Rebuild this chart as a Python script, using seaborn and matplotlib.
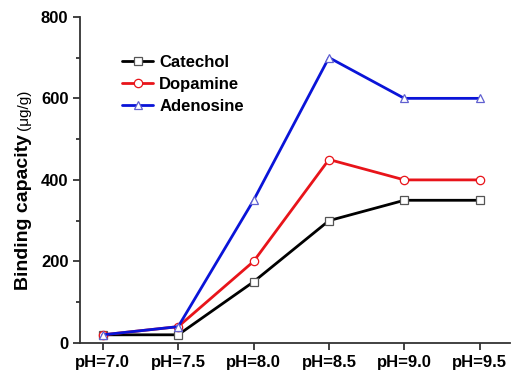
import pandas as pd
import matplotlib
matplotlib.use("Agg")
import matplotlib.pyplot as plt
import seaborn as sns
from matplotlib.ticker import MultipleLocator

# Data
ph_labels = ["pH=7.0", "pH=7.5", "pH=8.0", "pH=8.5", "pH=9.0", "pH=9.5"]
catechol = [20, 20, 150, 300, 350, 350]
dopamine = [20, 40, 200, 450, 400, 400]
adenosine = [20, 40, 350, 700, 600, 600]

series = {"Catechol": catechol, "Dopamine": dopamine, "Adenosine": adenosine}
colors = {"Catechol": "black", "Dopamine": "#e8141a", "Adenosine": "#0a14d8"}
markers = {"Catechol": "s", "Dopamine": "o", "Adenosine": "^"}
edges = {"Catechol": "#555555", "Dopamine": "#e8141a", "Adenosine": "#6060d0"}

rows = []
for name, vals in series.items():
    for i, v in enumerate(vals):
        rows.append({"pos": i, "value": v, "series": name})
df = pd.DataFrame(rows)

sns.set_style("ticks")
plt.rcParams["font.family"] = ["Liberation Sans", "DejaVu Sans"]
plt.rcParams["font.weight"] = "bold"
plt.rcParams["text.color"] = "black"

fig = plt.figure(figsize=(5.14, 3.74), dpi=100)
ax = fig.add_axes([0.156, 0.083, 0.836, 0.872])

for name in series:
    sub = df[df["series"] == name]
    sns.lineplot(data=sub, x="pos", y="value", ax=ax, color=colors[name],
                 marker=markers[name], markersize=6, markerfacecolor="white",
                 markeredgecolor=edges[name], markeredgewidth=0.9,
                 linewidth=2.0, label=name)

ax.set_xlim(-0.3, 5.4)
ax.set_ylim(0, 800)
ax.set_xticks(range(len(ph_labels)))
ax.set_xticklabels(ph_labels)
ax.yaxis.set_major_locator(MultipleLocator(200))
ax.yaxis.set_minor_locator(MultipleLocator(100))
ax.tick_params(axis="both", labelsize=12, width=1.3, length=5, direction="out",
               colors="#333333", labelcolor="black")
ax.tick_params(axis="y", which="minor", width=1.3, length=3, colors="#333333")
for lab in ax.get_xticklabels() + ax.get_yticklabels():
    lab.set_fontweight("bold")
ax.set_xlabel("")
ax.set_ylabel("")
for side in ["left", "bottom"]:
    ax.spines[side].set_linewidth(1.3)
    ax.spines[side].set_color("#333333")
sns.despine(ax=ax)

# y label: bold title part plus lighter unit part, sharing one baseline
base_x = 27.5 / 514
t1 = fig.text(base_x, 1 - 290 / 374, "Binding capacity", rotation=90,
              rotation_mode="anchor", fontsize=14, fontweight="bold",
              ha="left", va="baseline")
fig.canvas.draw()
bb = t1.get_window_extent()
fig.text(base_x, (bb.y1 + 4) / fig.bbox.height, "(\u03bcg/g)",
         rotation=90, rotation_mode="anchor", fontsize=11, fontweight="normal",
         ha="left", va="baseline")

leg = ax.legend(loc="upper left", bbox_to_anchor=(0.062, 0.928), frameon=False,
                fontsize=12, handlelength=1.9, handletextpad=0.35,
                labelspacing=0.4)
for t in leg.get_texts():
    t.set_fontweight("bold")

fig.savefig("out.png", dpi=100)
